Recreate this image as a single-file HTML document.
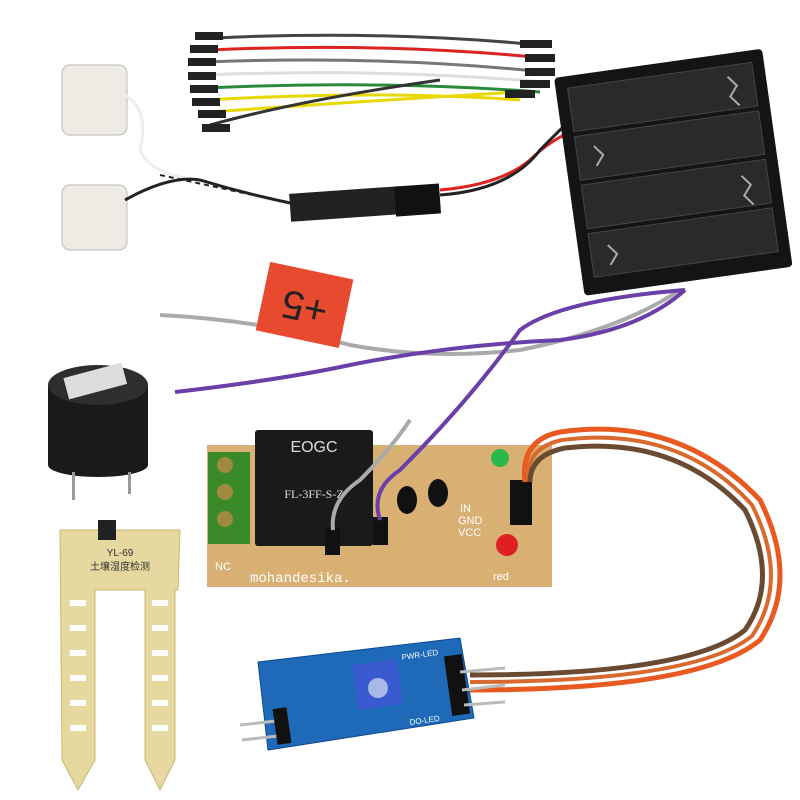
<!DOCTYPE html>
<html><head><meta charset="utf-8"><style>html,body{margin:0;padding:0;background:#fff;}svg{display:block}</style></head>
<body>
<svg width="800" height="800" viewBox="0 0 800 800" xmlns="http://www.w3.org/2000/svg" font-family="Liberation Sans, sans-serif">
<rect width="800" height="800" fill="#fff"/>
<g stroke-width="3" fill="none">
<path d="M215 38 Q380 30 540 45" stroke="#444"/>
<path d="M210 50 Q380 42 545 58" stroke="#d22"/>
<path d="M205 62 Q380 55 545 72" stroke="#777"/>
<path d="M205 75 Q380 68 545 82" stroke="#ddd"/>
<path d="M205 88 Q380 80 540 92" stroke="#2a8a3a"/>
<path d="M205 100 Q380 90 520 100" stroke="#e8d800"/>
<path d="M210 112 Q380 100 520 92" stroke="#e8d800"/>
<path d="M210 125 Q300 100 440 80" stroke="#333"/>
</g>
<g fill="#222">
<rect x="195" y="32" width="28" height="8"/><rect x="190" y="45" width="28" height="8"/><rect x="188" y="58" width="28" height="8"/>
<rect x="188" y="72" width="28" height="8"/><rect x="190" y="85" width="28" height="8"/><rect x="192" y="98" width="28" height="8"/>
<rect x="198" y="110" width="28" height="8"/><rect x="202" y="124" width="28" height="8"/>
<rect x="520" y="40" width="32" height="8"/><rect x="525" y="54" width="30" height="8"/><rect x="525" y="68" width="30" height="8"/>
<rect x="520" y="80" width="30" height="8"/><rect x="505" y="90" width="30" height="8"/>
</g>
<g fill="#eeeae4" stroke="#bbb">
<rect x="62" y="65" width="65" height="70" rx="8"/>
<rect x="62" y="185" width="65" height="65" rx="8"/>
</g>
<path d="M125 95 Q150 110 140 150 Q150 175 200 180 Q260 200 300 205" stroke="#eee" stroke-width="3" fill="none"/>
<path d="M125 200 Q170 175 200 180 Q250 195 300 205" stroke="#222" stroke-width="3" fill="none"/>
<path d="M160 175 Q230 190 300 205" stroke="#222" stroke-width="2" fill="none" stroke-dasharray="5 4"/>
<rect x="290" y="190" width="110" height="28" fill="#222" transform="rotate(-4 345 204)"/>
<rect x="395" y="185" width="45" height="30" fill="#111" transform="rotate(-4 418 200)"/>
<path d="M440 190 Q500 185 530 160 Q550 140 575 130" stroke="#d22" stroke-width="3" fill="none"/>
<path d="M440 195 Q510 190 540 150 Q560 130 580 110" stroke="#222" stroke-width="3" fill="none"/>
<g transform="rotate(-8 675 170)">
<rect x="568" y="62" width="210" height="220" fill="#141414" rx="4"/>
<g fill="#2a2a2a" stroke="#444">
<rect x="580" y="74" width="186" height="44"/><rect x="580" y="123" width="186" height="44"/>
<rect x="580" y="172" width="186" height="44"/><rect x="580" y="221" width="186" height="44"/>
</g>
<g stroke="#aaa" stroke-width="2" fill="none">
<path d="M740 85 l8 10 l-8 10 l8 10"/><path d="M598 135 l8 10 l-8 10"/><path d="M740 185 l8 10 l-8 10 l8 10"/><path d="M598 235 l8 10 l-8 10"/>
</g>
</g>
<path d="M160 315 Q260 320 350 345 Q430 360 520 350 Q620 330 680 290" stroke="#aaa" stroke-width="4" fill="none"/>
<path d="M175 392 Q280 380 350 365 Q450 345 560 340 Q640 330 685 290" stroke="#6a3fa8" stroke-width="4" fill="none"/>
<g transform="rotate(12 305 305)"><rect x="262" y="270" width="85" height="70" fill="#e84a30"/>
<text x="305" y="322" font-size="40" text-anchor="middle" fill="#222" transform="rotate(180 305 308)">+5</text></g>
<rect x="48" y="385" width="100" height="80" fill="#1a1a1a"/>
<ellipse cx="98" cy="465" rx="50" ry="12" fill="#1a1a1a"/>
<ellipse cx="98" cy="385" rx="50" ry="20" fill="#2e2e2e"/>
<rect x="65" y="370" width="60" height="22" fill="#ddd" transform="rotate(-15 95 380)"/>
<rect x="72" y="472" width="3" height="28" fill="#999"/><rect x="128" y="472" width="3" height="22" fill="#999"/>
<g fill="#e6d9a0" stroke="#c8b870">
<path d="M60 530 L180 530 L178 590 L175 590 L175 760 L160 790 L145 760 L145 590 L95 590 L95 760 L78 790 L62 760 Z"/>
</g>
<rect x="98" y="520" width="18" height="20" fill="#222"/>
<text x="120" y="556" font-size="10" fill="#333" text-anchor="middle">YL-69</text>
<text x="120" y="570" font-size="10" fill="#333" text-anchor="middle">土壤湿度检测</text>
<g fill="#fff">
<rect x="70" y="600" width="16" height="6"/><rect x="70" y="625" width="16" height="6"/><rect x="70" y="650" width="16" height="6"/><rect x="70" y="675" width="16" height="6"/><rect x="70" y="700" width="16" height="6"/><rect x="70" y="725" width="16" height="6"/>
<rect x="152" y="600" width="16" height="6"/><rect x="152" y="625" width="16" height="6"/><rect x="152" y="650" width="16" height="6"/><rect x="152" y="675" width="16" height="6"/><rect x="152" y="700" width="16" height="6"/><rect x="152" y="725" width="16" height="6"/>
</g>
<rect x="207" y="445" width="345" height="142" fill="#d8b074"/>
<rect x="208" y="452" width="42" height="92" fill="#3a8a2a"/>
<circle cx="225" cy="465" r="8" fill="#a08a40"/><circle cx="225" cy="492" r="8" fill="#a08a40"/><circle cx="225" cy="519" r="8" fill="#a08a40"/>
<rect x="255" y="430" width="118" height="116" fill="#1a1a1a" rx="3"/>
<text x="314" y="452" font-size="16" fill="#ddd" text-anchor="middle">EOGC</text>
<text x="314" y="498" font-size="12" fill="#ddd" text-anchor="middle" font-family="Liberation Serif, serif">FL-3FF-S-Z</text>
<text x="215" y="570" font-size="11" fill="#fff">NC</text>
<text x="250" y="582" font-size="14" fill="#fff" font-family="Liberation Mono, monospace">mohandesika.</text>
<text x="460" y="512" font-size="11" fill="#fff">IN</text><text x="458" y="524" font-size="11" fill="#fff">GND</text><text x="458" y="536" font-size="11" fill="#fff">VCC</text>
<text x="493" y="580" font-size="11" fill="#fff">red</text>
<circle cx="500" cy="458" r="9" fill="#2ab84a"/><circle cx="507" cy="545" r="11" fill="#e02020"/>
<ellipse cx="407" cy="500" rx="10" ry="14" fill="#111"/><ellipse cx="438" cy="493" rx="10" ry="14" fill="#111"/>
<rect x="510" y="480" width="22" height="45" fill="#111"/>
<rect x="325" y="527" width="15" height="28" fill="#111"/><rect x="373" y="517" width="15" height="28" fill="#111"/>
<path d="M333 530 Q330 500 360 480 Q390 450 410 420" stroke="#aaa" stroke-width="4" fill="none"/>
<path d="M380 520 Q370 490 400 470 Q470 400 520 330 Q560 300 685 290" stroke="#6a3fa8" stroke-width="4" fill="none"/>
<path d="M525 482 Q520 440 560 432 Q680 415 760 500 Q800 580 760 640 Q700 690 470 690" stroke="#e85a20" stroke-width="5" fill="none"/>
<path d="M528 482 Q525 448 562 440 Q680 425 752 505 Q790 580 752 636 Q695 682 470 682" stroke="#d86a30" stroke-width="4" fill="none"/>
<path d="M530 482 Q530 455 565 448 Q675 435 745 510 Q780 580 745 630 Q690 675 470 675" stroke="#6a4a30" stroke-width="5" fill="none"/>
<polygon points="258,662 460,638 474,718 268,750" fill="#1e6ab8" stroke="#0e4a90"/>
<rect x="355" y="662" width="45" height="45" fill="#3a5ad0" transform="rotate(-8 378 685)"/>
<circle cx="378" cy="688" r="10" fill="#aab8e8"/>
<rect x="448" y="655" width="18" height="60" fill="#111" transform="rotate(-8 457 685)"/>
<g stroke="#bbb" stroke-width="3"><line x1="240" y1="725" x2="285" y2="720"/><line x1="242" y1="740" x2="287" y2="735"/>
<line x1="460" y1="672" x2="505" y2="668"/><line x1="462" y1="690" x2="505" y2="685"/><line x1="464" y1="705" x2="505" y2="702"/></g>
<rect x="275" y="708" width="14" height="36" fill="#111" transform="rotate(-8 282 726)"/>
<text x="402" y="660" font-size="8" fill="#fff" transform="rotate(-8 402 660)">PWR-LED</text>
<text x="410" y="725" font-size="8" fill="#fff" transform="rotate(-8 410 725)">DO-LED</text>
</svg>
</body></html>
